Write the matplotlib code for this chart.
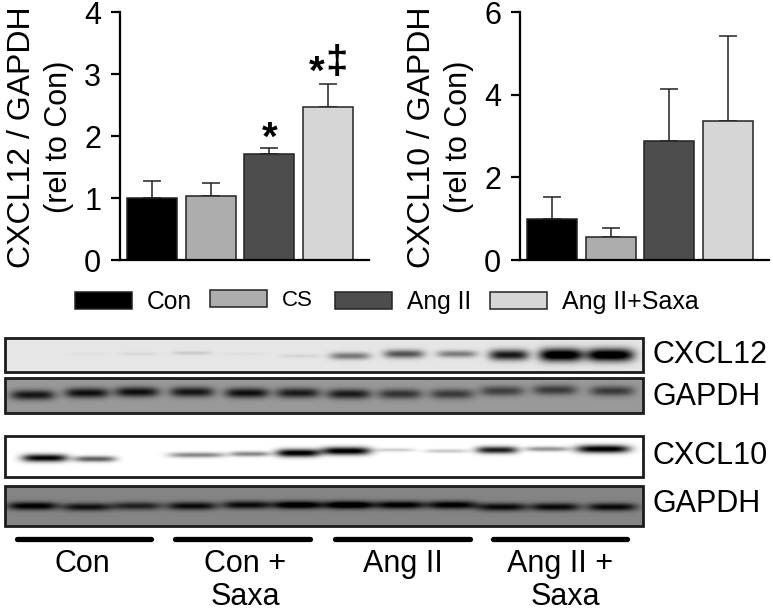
import numpy as np
import matplotlib
matplotlib.use("Agg")
import matplotlib.pyplot as plt
from matplotlib.patches import Rectangle

plt.rcParams['font.family'] = ['Liberation Sans', 'DejaVu Sans']

W, H = 773, 613

groups = ["Con", "CS", "Ang II", "Ang II+Saxa"]
colors = ["#000000", "#adadad", "#4d4d4d", "#d6d6d6"]

# bar heights and upper error
cxcl12 = [1.0, 1.03, 1.71, 2.46]
cxcl12_err = [0.27, 0.21, 0.10, 0.38]
cxcl10 = [0.99, 0.55, 2.87, 3.37]
cxcl10_err = [0.54, 0.23, 1.26, 2.06]

# band strength per lane, read from the blots
blot_cxcl12 = [0.0, 0.02, 0.05, 0.10, 0.03, 0.07, 0.42, 0.55, 0.40, 0.78, 1.0, 1.0]
blot_gapdh1 = [0.42, 0.44, 0.44, 0.42, 0.44, 0.40, 0.40, 0.32, 0.30, 0.28, 0.30, 0.30]
blot_cxcl10 = [0.95, 0.60, 0.0, 0.45, 0.45, 1.0, 1.0, 0.18, 0.20, 0.85, 0.40, 1.0]
blot_gapdh2 = [0.50, 0.42, 0.36, 0.45, 0.45, 0.55, 0.58, 0.50, 0.50, 0.45, 0.45, 0.45]


def px_axes(fig, left, top, right, bottom):
    return fig.add_axes([left / W, 1 - bottom / H, (right - left) / W, (bottom - top) / H])


def bar_panel(fig, left, values, errs, ymax, ticks, label):
    ax = px_axes(fig, left, 12, left + 249, 260)
    x = np.arange(len(values))
    ax.errorbar(x, values, yerr=[np.zeros(len(errs)), errs], fmt='none', ecolor="#222222",
                elinewidth=1.1, capsize=6.5, capthick=1.1, zorder=1)
    ax.bar(x, values, width=0.85, color=colors, edgecolor="#222222", linewidth=1.1, zorder=2)
    ax.set_xlim(-0.545, 3.70)
    ax.set_ylim(0, ymax)
    ax.set_xticks([])
    ax.set_yticks(ticks)
    ax.tick_params(axis='y', length=6.5, width=1.6, labelsize=22, pad=7)
    ax.patch.set_alpha(0)
    for s in ['top', 'right']:
        ax.spines[s].set_visible(False)
    for s in ['left', 'bottom']:
        ax.spines[s].set_linewidth(1.6)
    fig.text((left - 98) / W, 1 - 137 / H, label[0], rotation=90, fontsize=23, ha='center', va='center')
    fig.text((left - 61) / W, 1 - 137 / H, label[1], rotation=90, fontsize=22, ha='center', va='center')
    return ax


def blot(ax, top, bottom, background, strengths, centers, half_widths, band_y, band_h, scale):
    xs = np.arange(5, 643) + 0.5
    ys = np.arange(top, bottom) + 0.5
    xx, yy = np.meshgrid(xs, ys)
    img = np.full(xx.shape, float(background))
    for s, c, hw, y0 in zip(strengths, centers, half_widths, band_y):
        h = band_h[0] + band_h[1] * s
        img -= scale * s * np.exp(-np.abs((xx - c) / hw) ** 4) * np.exp(-((yy - y0) / h) ** 2)
    ax.imshow(np.clip(img, 0, 1), cmap='gray', vmin=0, vmax=1, extent=(5, 643, bottom, top),
              aspect='auto', interpolation='bilinear', zorder=1)
    ax.add_patch(Rectangle((5, top), 638, bottom - top, fill=False, edgecolor="#1c1c1c", linewidth=2.0, zorder=2))


fig = plt.figure(figsize=(W / 100, H / 100), dpi=100)

overlay = fig.add_axes([0, 0, 1, 1])

lanes1 = [33, 85, 138, 192, 245, 300, 350, 404, 457, 509, 561, 610]
lanes2 = [45, 95, 148, 197, 250, 298, 346, 395, 447, 497, 547, 603]
lanes3 = [33, 87, 137, 192, 247, 298, 349, 400, 452, 502, 555, 612]

blot(overlay, 338, 372, 0.90, blot_cxcl12, lanes1, [20] * 10 + [22, 24],
     [355, 354, 354, 353, 354, 356, 356, 354, 354, 355, 355, 355], (1.5, 5), 1.05)
blot(overlay, 378, 413, 0.60, blot_gapdh1, lanes3, [22] * 12,
     [395, 393, 392, 392, 393, 393, 394, 394, 394, 391, 390, 391], (5, 0), 1.25)
blot(overlay, 436, 477, 1.0, blot_cxcl10, lanes2, [23, 21, 20, 28, 20, 22, 25, 20, 22, 21, 22, 27],
     [458, 459, 459, 455, 454, 453, 451, 450, 451, 450, 449, 449], (1.5, 2.5), 1.05)
blot(overlay, 486, 526, 0.52, blot_gapdh2, lanes3, [25] * 12,
     [506, 507, 506, 506, 505, 505, 505, 505, 505, 507, 507, 507], (4, 0), 1.1)

# group bars under the blots
for x0, x1 in [(15, 153), (173, 312), (333, 472), (491, 629)]:
    overlay.plot([x0 + 2, x1 - 2], [539, 539], color="black", linewidth=3.8, solid_capstyle='round')

# legend
for x0, y0, c in zip([75, 210, 335, 490], [292, 290, 292, 292], colors):
    overlay.add_patch(Rectangle((x0, y0), 57, 17, facecolor=c, edgecolor="#222222", linewidth=1.1))
overlay.text(147, 302, groups[0], fontsize=17.7, va='center', ha='left')
overlay.text(282, 300, groups[1], fontsize=16, va='center', ha='left')
overlay.text(407, 302, groups[2], fontsize=17.7, va='center', ha='left')
overlay.text(562, 302, groups[3], fontsize=18, va='center', ha='left')

for label, y in [("CXCL12", 355), ("GAPDH", 397), ("CXCL10", 456), ("GAPDH", 504)]:
    overlay.text(652, y, label, fontsize=22, va='center', ha='left')

for label, x, y in [("Con", 82, 564), ("Con +", 245, 564), ("Saxa", 245, 597),
                    ("Ang II", 403, 564), ("Ang II +", 560, 564), ("Saxa", 565, 597)]:
    overlay.text(x, y, label, fontsize=22, va='center', ha='center')

overlay.set_xlim(0, W)
overlay.set_ylim(H, 0)
overlay.axis('off')

ax1 = bar_panel(fig, 120, cxcl12, cxcl12_err, 4, [0, 1, 2, 3, 4], ("CXCL12 / GAPDH", "(rel to Con)"))
ax2 = bar_panel(fig, 520, cxcl10, cxcl10_err, 6, [0, 2, 4, 6], ("CXCL10 / GAPDH", "(rel to Con)"))

ax1.text(2, 1.95, "*", fontsize=29, fontweight='bold', ha='center', va='center')
ax1.text(2.81, 3.02, "*", fontsize=29, fontweight='bold', ha='center', va='center')
ax1.text(3.15, 3.17, "‡", fontsize=29, fontweight='bold', ha='center', va='center')

fig.savefig("out.png", dpi=100)
